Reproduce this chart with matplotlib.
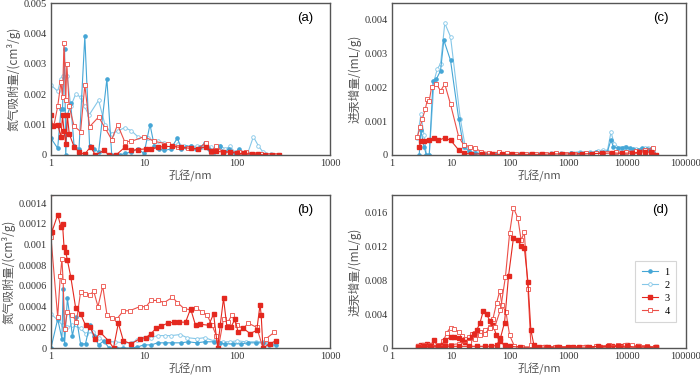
import matplotlib
matplotlib.use("Agg")
import matplotlib.pyplot as plt

# ---- data ----
# panel (a): nitrogen adsorption, small pores
a1_x = [1.0, 1.18, 1.28, 1.33, 1.4, 1.44, 1.5, 1.63, 1.77, 2.0,
        2.31, 2.6, 2.88, 3.25, 3.99, 4.5, 5.5, 6.2, 7.3, 8.6,
        10.0, 11.6, 12.9, 14.5, 16.6, 19.5, 22.9, 25.0, 28.0, 32.0,
        36.0, 40.0, 45.6, 50.0, 57.0, 65.0, 72.0, 82.0, 95.0, 104.0,
        120.0, 140.0, 165.0, 200.0, 240.0, 280.0]
a1_y = [0.00055, 0.00022, 0.0015, 0.0015, 0.0035, 0.0, 0.0013, 0.0017, 0.0003, 0.0002,
        0.0039, 0.0003, 0.0002, 0.0001, 0.0025, 0.0, 0.0, 0.00005, 0.0001, 0.0002,
        0.00005, 0.001, 0.0003, 0.0002, 0.00015, 0.0002, 0.00057, 0.0002, 0.00025, 0.0003,
        0.0002, 0.00025, 0.0004, 0.0002, 0.0001, 0.0003, 0.0001, 0.0002, 0.00005, 0.0002,
        0.00005, 0.00003, 0.0, 0.0, 0.0, 0.0]
a2_x = [1.0, 1.18, 1.28, 1.36, 1.5, 1.63, 1.84, 2.1, 2.3, 2.55,
        3.25, 3.8, 4.5, 5.3, 6.2, 7.3, 8.6, 11.0, 14.0, 16.5,
        19.5, 23.0, 27.0, 32.0, 37.0, 42.0, 46.0, 52.0, 58.0, 66.0,
        75.0, 84.0, 95.0, 110.0, 130.0, 150.0, 170.0, 190.0, 230.0, 275.0]
a2_y = [0.0023, 0.0021, 0.0025, 0.0026, 0.0026, 0.0016, 0.002, 0.0019, 0.0016, 0.0013,
        0.0018, 0.001, 0.0007, 0.0008, 0.0009, 0.0008, 0.0006, 0.00055, 0.00045, 0.0004,
        0.0003, 0.00035, 0.0003, 0.0003, 0.00028, 0.00025, 0.0004, 0.00025, 0.0002, 0.0003,
        0.0002, 0.00028, 0.0001, 0.0001, 0.00005, 0.0006, 0.0003, 0.0001, 0.00003, 0.0]
a3_x = [1.0, 1.04, 1.18, 1.28, 1.33, 1.38, 1.44, 1.5, 1.57, 1.77,
        2.0, 2.3, 2.66, 3.0, 3.7, 4.2, 5.0, 6.2, 7.3, 8.6,
        10.4, 12.0, 14.0, 16.6, 20.0, 25.0, 31.7, 38.0, 46.0, 52.0,
        60.0, 70.0, 85.0, 100.0, 120.0, 145.0, 170.0, 200.0, 240.0, 280.0]
a3_y = [0.0013, 0.00095, 0.001, 0.0006, 0.0013, 0.0008, 0.00035, 0.0013, 0.0007, 0.00027,
        0.0001, 0.00002, 0.00027, 0.0, 0.00015, 0.0, 0.0, 0.00025, 0.00015, 0.00018,
        0.0002, 0.0002, 0.00025, 0.00028, 0.00028, 0.00025, 0.00022, 0.0002, 0.00027, 0.00012,
        0.00012, 0.0001, 0.0001, 0.00005, 0.00005, 0.00003, 0.00002, 0.0, 0.0, 0.0]
a4_x = [1.0, 1.08, 1.18, 1.28, 1.33, 1.38, 1.44, 1.48, 1.57, 1.77,
        2.08, 2.31, 2.6, 3.25, 3.8, 4.5, 5.2, 6.2, 7.3, 10.0,
        12.9, 18.0, 23.0, 30.0, 38.0, 46.0, 52.0, 60.0, 70.0, 85.0,
        105.0, 125.0, 150.0, 180.0, 220.0, 260.0]
a4_y = [0.00095, 0.001, 0.0016, 0.0024, 0.0019, 0.0037, 0.0018, 0.003, 0.0016, 0.00095,
        0.00077, 0.0023, 0.00093, 0.00125, 0.0009, 0.0005, 0.001, 0.00044, 0.00045, 0.0006,
        0.00045, 0.00036, 0.00027, 0.00022, 0.0002, 0.0004, 0.0001, 0.0003, 0.0001, 0.0001,
        0.0001, 0.0001, 0.00003, 0.00002, 0.0, 0.0]

# panel (b)
b1_x = [1.0, 1.18, 1.31, 1.35, 1.4, 1.5, 1.7, 1.87, 2.08, 2.35,
        2.6, 2.88, 3.25, 3.7, 4.2, 5.0, 6.0, 7.3, 8.5, 10.0,
        12.0, 14.0, 17.0, 20.0, 25.0, 30.0, 37.0, 45.0, 56.0, 65.0,
        75.0, 90.0, 110.0, 130.0, 160.0, 190.0, 220.0, 260.0]
b1_y = [0.0, 0.00028, 0.00009, 0.00057, 0.00004, 0.00048, 0.00012, 0.0003, 0.00004, 0.00004,
        0.00022, 0.00012, 0.00003, 0.00007, 0.0, 0.0, 0.0, 0.0, 0.00001, 0.00003,
        0.00003, 0.00005, 0.00005, 0.00005, 0.00005, 0.00006, 0.00005, 0.00006, 0.00006, 0.00005,
        0.00004, 0.00004, 0.00004, 0.00005, 0.00005, 0.00005, 0.00003, 0.00003]
b2_x = [1.0, 1.18, 1.33, 1.4, 1.5, 1.7, 2.08, 2.35, 2.8, 3.25,
        3.8, 4.9, 6.0, 7.3, 8.5, 10.0, 12.0, 14.0, 17.0, 19.5,
        24.6, 29.0, 37.0, 45.0, 56.0, 70.0, 84.0, 100.0, 125.0, 160.0,
        190.0, 240.0]
b2_y = [0.00033, 0.00027, 0.00022, 0.0002, 0.0002, 0.00022, 0.00019, 0.00014, 0.00015, 0.0001,
        0.00006, 0.00006, 0.00005, 0.00005, 0.00008, 0.0001, 0.0001, 0.00012, 0.00012, 0.00012,
        0.00013, 0.0001, 0.00009, 0.0001, 0.00007, 0.00006, 0.00006, 0.00007, 0.00006, 0.00006,
        0.00006, 0.00004]
b3_x = [1.0, 1.02, 1.18, 1.28, 1.33, 1.38, 1.44, 1.5, 1.63, 1.84,
        2.08, 2.35, 2.65, 3.0, 3.4, 4.15, 4.7, 5.3, 6.0, 7.3,
        9.0, 10.5, 11.9, 13.5, 15.2, 17.9, 21.0, 23.9, 28.0, 31.7,
        35.8, 40.0, 49.6, 56.0, 62.0, 66.0, 71.6, 78.0, 86.0, 95.0,
        103.0, 117.0, 138.0, 163.0, 177.0, 182.0, 190.0, 224.0, 262.0]
b3_y = [0.0015, 0.00112, 0.00129, 0.00117, 0.0012, 0.00098, 0.00093, 0.00085, 0.00069, 0.00039,
        0.00033, 0.00022, 0.0002, 0.00009, 0.00015, 0.00007, 0.0, 0.00024, 0.00007, 0.00004,
        0.00009, 0.0001, 0.00014, 0.00019, 0.00021, 0.00024, 0.00025, 0.00025, 0.00025, 0.00038,
        0.00022, 0.00023, 0.00022, 0.00033, 0.0, 0.00022, 0.00048, 0.0002, 0.0002, 0.00028,
        0.00015, 0.00019, 0.00014, 0.00017, 0.00042, 0.00032, 0.0, 0.00004, 0.00007]
b4_x = [1.0, 1.18, 1.26, 1.31, 1.35, 1.4, 1.5, 1.7, 1.87, 2.08,
        2.3, 2.6, 2.88, 3.2, 3.6, 4.0, 4.5, 5.1, 6.0, 7.0,
        9.0, 10.5, 11.9, 14.0, 16.5, 20.2, 22.9, 27.0, 31.7, 35.8,
        42.0, 47.6, 53.8, 60.0, 63.0, 71.6, 80.0, 88.0, 99.0, 117.0,
        132.0, 163.0, 190.0, 205.0, 250.0]
b4_y = [0.00107, 0.0003, 0.0007, 0.00086, 0.00065, 0.00018, 0.00035, 0.00032, 0.00025, 0.00054,
        0.00052, 0.00051, 0.00055, 0.0004, 0.0006, 0.00032, 0.00029, 0.00028, 0.00036, 0.00036,
        0.0004, 0.0004, 0.00046, 0.00046, 0.00044, 0.00049, 0.00044, 0.00038, 0.00037, 0.00039,
        0.00035, 0.00032, 0.00022, 0.00012, 0.0, 0.00028, 0.00025, 0.00032, 0.00022, 0.00019,
        0.00024, 0.0002, 0.0, 0.00009, 0.00015]

# panel (c): mercury intrusion
c1_x = [2.9, 3.1, 3.5, 3.85, 4.3, 5.0, 5.7, 6.7, 7.6, 9.9,
        13.6, 16.5, 20.0, 26.0, 35.0, 50.0, 70.0, 100.0, 150.0, 220.0,
        330.0, 500.0, 750.0, 1100.0, 1600.0, 2300.0, 3000.0, 3900.0, 4600.0, 5300.0,
        5800.0, 7000.0, 8200.0, 9600.0, 11000.0, 12500.0, 15000.0, 18000.0, 22000.0, 25000.0,
        28000.0, 31000.0]
c1_y = [0.0, 0.00073, 0.00025, 0.0, 0.0, 0.0022, 0.00225, 0.0025, 0.0034, 0.0028,
        0.00108, 0.00025, 0.00013, 0.00005, 0.00004, 0.00003, 0.00004, 0.00003, 0.00002, 0.00003,
        0.00003, 0.00004, 0.00004, 0.00005, 0.00005, 0.00006, 0.00008, 0.0001, 0.0001, 0.00044,
        0.00025, 0.0002, 0.00022, 0.00025, 0.0002, 0.00017, 0.00015, 0.0002, 0.00017, 0.00018,
        0.0001, 0.0]
c2_x = [2.7, 3.1, 3.5, 3.85, 4.3, 5.2, 5.9, 6.7, 7.9, 9.9,
        14.5, 17.6, 22.7, 30.0, 45.0, 70.0, 100.0, 150.0, 220.0, 330.0,
        500.0, 750.0, 1100.0, 1600.0, 2300.0, 3200.0, 3900.0, 4600.0, 5300.0, 6000.0,
        7400.0, 9000.0, 11000.0, 14000.0, 17000.0, 20000.0, 23000.0, 26000.0, 30000.0]
c2_y = [0.0005, 0.0012, 0.0006, 0.0, 0.0, 0.0022, 0.00255, 0.0027, 0.0039, 0.0035,
        0.00108, 0.00025, 0.00015, 0.00007, 0.00005, 0.00005, 0.00004, 0.00003, 0.00004, 0.00004,
        0.00005, 0.00006, 0.00007, 0.0001, 0.00008, 0.00012, 0.00015, 0.00012, 0.00068, 0.00034,
        0.0002, 0.00025, 0.00018, 0.00017, 0.00018, 0.0002, 0.00022, 0.0002, 0.0]
c3_x = [2.9, 3.1, 3.5, 4.3, 5.2, 6.1, 7.9, 9.9, 13.6, 16.5,
        22.0, 33.5, 50.0, 75.0, 110.0, 160.0, 240.0, 350.0, 520.0, 780.0,
        1150.0, 1700.0, 2500.0, 3700.0, 5500.0, 8000.0, 12000.0, 16000.0, 20000.0, 25000.0,
        31000.0]
c3_y = [0.00025, 0.0004, 0.0004, 0.00044, 0.00049, 0.00044, 0.0005, 0.00044, 0.00015, 0.00005,
        0.00003, 0.00003, 0.00002, 0.00002, 0.00002, 0.00002, 0.00002, 0.00002, 0.00003, 0.00003,
        0.00003, 0.00003, 0.00004, 0.00005, 0.00006, 0.00005, 0.00006, 0.00008, 0.0001, 0.00008,
        0.0]
c4_x = [2.7, 3.0, 3.3, 3.7, 4.0, 4.3, 4.7, 5.7, 6.7, 7.9,
        9.9, 13.6, 16.5, 21.0, 26.0, 33.0, 45.0, 65.0, 90.0, 130.0,
        190.0, 280.0, 420.0, 620.0, 900.0, 1300.0, 2000.0, 3000.0, 4500.0, 6500.0,
        9500.0, 14000.0, 20000.0, 27000.0, 31000.0]
c4_y = [0.00054, 0.00083, 0.00108, 0.00137, 0.00165, 0.0016, 0.002, 0.0021, 0.0019, 0.0021,
        0.0015, 0.00054, 0.0003, 0.00025, 0.0002, 0.0001, 0.00007, 0.00008, 0.00006, 0.00004,
        0.00003, 0.00003, 0.00004, 0.00005, 0.00004, 0.00004, 0.00005, 0.00006, 0.00007, 0.00008,
        0.0001, 0.00012, 0.00015, 0.0002, 0.0]

# panel (d)
d1_x = [2.8, 3.1, 3.5, 4.0, 4.6, 5.2, 6.0, 7.0, 8.1, 9.9,
        11.5, 13.6, 15.5, 17.6, 20.0, 22.7, 25.0, 27.6, 31.5, 35.8,
        40.6, 46.0, 52.4, 59.6, 67.8, 82.0, 100.0, 150.0, 250.0, 400.0,
        700.0, 1200.0, 2000.0, 3500.0, 5500.0, 8000.0, 10000.0, 15000.0, 22000.0, 31000.0]
d1_y = [0.0002, 0.0003, 0.0004, 0.0005, 0.0004, 0.0009, 0.0002, 0.0004, 0.0009, 0.0013,
        0.0013, 0.0012, 0.001, 0.0007, 0.0009, 0.0013, 0.0016, 0.0021, 0.003, 0.0044,
        0.004, 0.0032, 0.0027, 0.0015, 0.0008, 0.0003, 0.0002, 0.0001, 0.0001, 0.0001,
        0.0001, 0.0001, 0.0001, 0.0001, 0.0002, 0.0002, 0.0003, 0.0002, 0.0001, 0.0001]
d2_x = [2.8, 3.5, 4.5, 6.0, 7.5, 8.5, 9.9, 11.5, 13.6, 15.5,
        17.6, 20.0, 22.7, 26.0, 31.5, 38.0, 46.0, 52.0, 60.0, 68.0,
        74.0, 87.0, 100.0, 121.0, 160.0, 250.0, 400.0, 700.0, 1200.0, 2000.0,
        3500.0, 6000.0, 10000.0, 18000.0, 30000.0]
d2_y = [0.0001, 0.0001, 0.0001, 0.0001, 0.0008, 0.0018, 0.0024, 0.0022, 0.0019, 0.0014,
        0.0011, 0.0013, 0.0017, 0.0018, 0.0019, 0.0021, 0.0025, 0.0034, 0.0053, 0.0067,
        0.0051, 0.0042, 0.0015, 0.0002, 0.0001, 0.0001, 0.0001, 0.0001, 0.0001, 0.0001,
        0.0001, 0.0001, 0.0001, 0.0001, 0.0001]
d3_x = [2.8, 3.5, 4.5, 6.0, 8.0, 10.0, 14.0, 20.0, 28.0, 38.0,
        48.0, 60.0, 70.0, 82.0, 96.0, 116.0, 138.0, 157.0, 178.0, 205.0,
        230.0, 260.0, 320.0, 450.0, 650.0, 1000.0, 1500.0, 2200.0, 3200.0, 4800.0,
        7000.0, 10000.0, 15000.0, 22000.0, 31000.0]
d3_y = [0.0001, 0.0002, 0.0002, 0.0002, 0.0002, 0.0002, 0.0002, 0.0002, 0.0002, 0.0002,
        0.0002, 0.0003, 0.0012, 0.003, 0.0085, 0.0129, 0.0127, 0.012, 0.0118, 0.0078,
        0.0021, 0.0003, 0.0001, 0.0001, 0.0001, 0.0001, 0.0001, 0.0001, 0.0002, 0.0002,
        0.0002, 0.0002, 0.0001, 0.0001, 0.0001]
d4_x = [2.8, 3.5, 4.5, 6.0, 8.0, 10.0, 14.0, 20.0, 26.0, 31.5,
        38.0, 46.0, 56.0, 70.0, 85.0, 100.0, 116.0, 138.0, 157.0, 178.0,
        205.0, 230.0, 260.0, 350.0, 600.0, 1000.0, 1800.0, 3000.0, 5000.0, 7000.0,
        9000.0, 12000.0, 16000.0, 22000.0, 30000.0]
d4_y = [0.0002, 0.0003, 0.0003, 0.0003, 0.0003, 0.0004, 0.0005, 0.0007, 0.0011, 0.0015,
        0.0017, 0.0023, 0.0025, 0.0045, 0.0084, 0.0135, 0.0165, 0.0153, 0.0127, 0.0136,
        0.007, 0.0004, 0.0002, 0.0001, 0.0001, 0.0001, 0.0001, 0.0002, 0.0003, 0.0003,
        0.0003, 0.0003, 0.0002, 0.0002, 0.0001]

series_labels = ["1", "2", "3", "4"]
xt_n2 = [1, 10, 100, 1000]
xt_n2_lab = ["1", "10", "100", "1000"]
xt_hg = [1, 10, 100, 1000, 10000, 100000]
xt_hg_lab = ["1", "10", "100", "1000", "10000", "100000"]
yt_a = [0, 0.001, 0.002, 0.003, 0.004, 0.005]
yt_a_lab = ["0", "0.001", "0.002", "0.003", "0.004", "0.005"]
yt_b = [0, 0.0002, 0.0004, 0.0006, 0.0008, 0.001, 0.0012, 0.0014]
yt_b_lab = ["0", "0.0002", "0.0004", "0.0006", "0.0008", "0.001", "0.0012", "0.0014"]
yt_c = [0, 0.001, 0.002, 0.003, 0.004]
yt_c_lab = ["0", "0.001", "0.002", "0.003", "0.004"]
yt_d = [0, 0.004, 0.008, 0.012, 0.016]
yt_d_lab = ["0", "0.004", "0.008", "0.012", "0.016"]

# ---- styles ----
BLUE = "#45a6d6"
LBLUE = "#85c7e8"
RED = "#e4281f"
LRED = "#ec4f48"
cjk = ["Noto Sans CJK SC", "DejaVu Sans"]

st1 = dict(color=BLUE, marker="o", ms=2.3, lw=0.8)
st2 = dict(color=LBLUE, marker="o", ms=2.6, mfc="white", mew=0.6, lw=0.8)
st3 = dict(color=RED, marker="s", ms=2.2, lw=0.8)
st4 = dict(color=LRED, marker="s", ms=2.6, mfc="white", mew=0.6, lw=0.8)

W, H = 700, 376
fig = plt.figure(figsize=(W / 100, H / 100), dpi=100)


def box(l, r, t, b):
    return [l / W, (H - b) / H, (r - l) / W, (b - t) / H]


ax_a = fig.add_axes(box(51, 330, 3, 155))
ax_b = fig.add_axes(box(51, 330, 195, 348))
ax_c = fig.add_axes(box(392, 686, 3, 155))
ax_d = fig.add_axes(box(392, 686, 195, 348))

ax_a.plot(a2_x, a2_y, **st2, label=series_labels[1])
ax_a.plot(a1_x, a1_y, **st1, label=series_labels[0])
ax_a.plot(a4_x, a4_y, **st4, label=series_labels[3])
ax_a.plot(a3_x, a3_y, **st3, label=series_labels[2])

ax_b.plot(b2_x, b2_y, **st2)
ax_b.plot(b1_x, b1_y, **st1)
ax_b.plot(b4_x, b4_y, **st4)
ax_b.plot(b3_x, b3_y, **st3)

ax_c.plot(c2_x, c2_y, **st2)
ax_c.plot(c1_x, c1_y, **st1)
ax_c.plot(c4_x, c4_y, **st4)
ax_c.plot(c3_x, c3_y, **st3)

ax_d.plot(d2_x, d2_y, **st4)
ax_d.plot(d1_x, d1_y, **st3)
ax_d.plot(d4_x, d4_y, **st4)
ax_d.plot(d3_x, d3_y, **st3)

setup = [
    (ax_a, (1, 1000), xt_n2, xt_n2_lab, (0, 0.005), yt_a, yt_a_lab, "氮气吸附量/(cm³/g)", "(a)"),
    (ax_b, (1, 1000), xt_n2, xt_n2_lab, (0, 0.00148), yt_b, yt_b_lab, "氮气吸附量/(cm³/g)", "(b)"),
    (ax_c, (1, 1e5), xt_hg, xt_hg_lab, (0, 0.0045), yt_c, yt_c_lab, "进汞增量/(mL/g)", "(c)"),
    (ax_d, (1, 1e5), xt_hg, xt_hg_lab, (0, 0.018), yt_d, yt_d_lab, "进汞增量/(mL/g)", "(d)"),
]
for ax, xl, xt, xtl, yl, yt, ytl, ylab, tag in setup:
    ax.set_xscale("log")
    ax.set_xlim(*xl)
    ax.set_ylim(*yl)
    ax.set_xticks(xt)
    ax.set_xticklabels(xtl)
    ax.minorticks_off()
    ax.set_yticks(yt)
    ax.set_yticklabels(ytl)
    ax.tick_params(length=0, pad=3, labelsize=7.5, labelcolor="#333333")
    for lab in ax.get_xticklabels() + ax.get_yticklabels():
        lab.set_family("Liberation Serif")
    for s in ax.spines.values():
        s.set_color("#555555")
        s.set_linewidth(1.0)
    ax.set_xlabel("孔径/nm", family=cjk, fontsize=8, color="#555555", labelpad=1)
    ax.set_ylabel(ylab, family=cjk, fontsize=8.5, color="#555555", labelpad=2)
    ax.text(0.94, 0.9, tag, transform=ax.transAxes, ha="right", va="center",
            family="Liberation Sans", fontsize=9.5)

h, l = ax_a.get_legend_handles_labels()
order = [1, 0, 3, 2]
leg = ax_d.legend([h[i] for i in order], [l[i] for i in order],
                  loc="upper left", bbox_to_anchor=(0.81, 0.6),
                  prop={"family": "Liberation Serif", "size": 7.5},
                  frameon=True, fancybox=False, edgecolor="#cccccc",
                  handlelength=1.6, handletextpad=0.6, labelspacing=0.35,
                  borderpad=0.6)
leg.get_frame().set_linewidth(0.8)

fig.savefig("out.png", dpi=100)
